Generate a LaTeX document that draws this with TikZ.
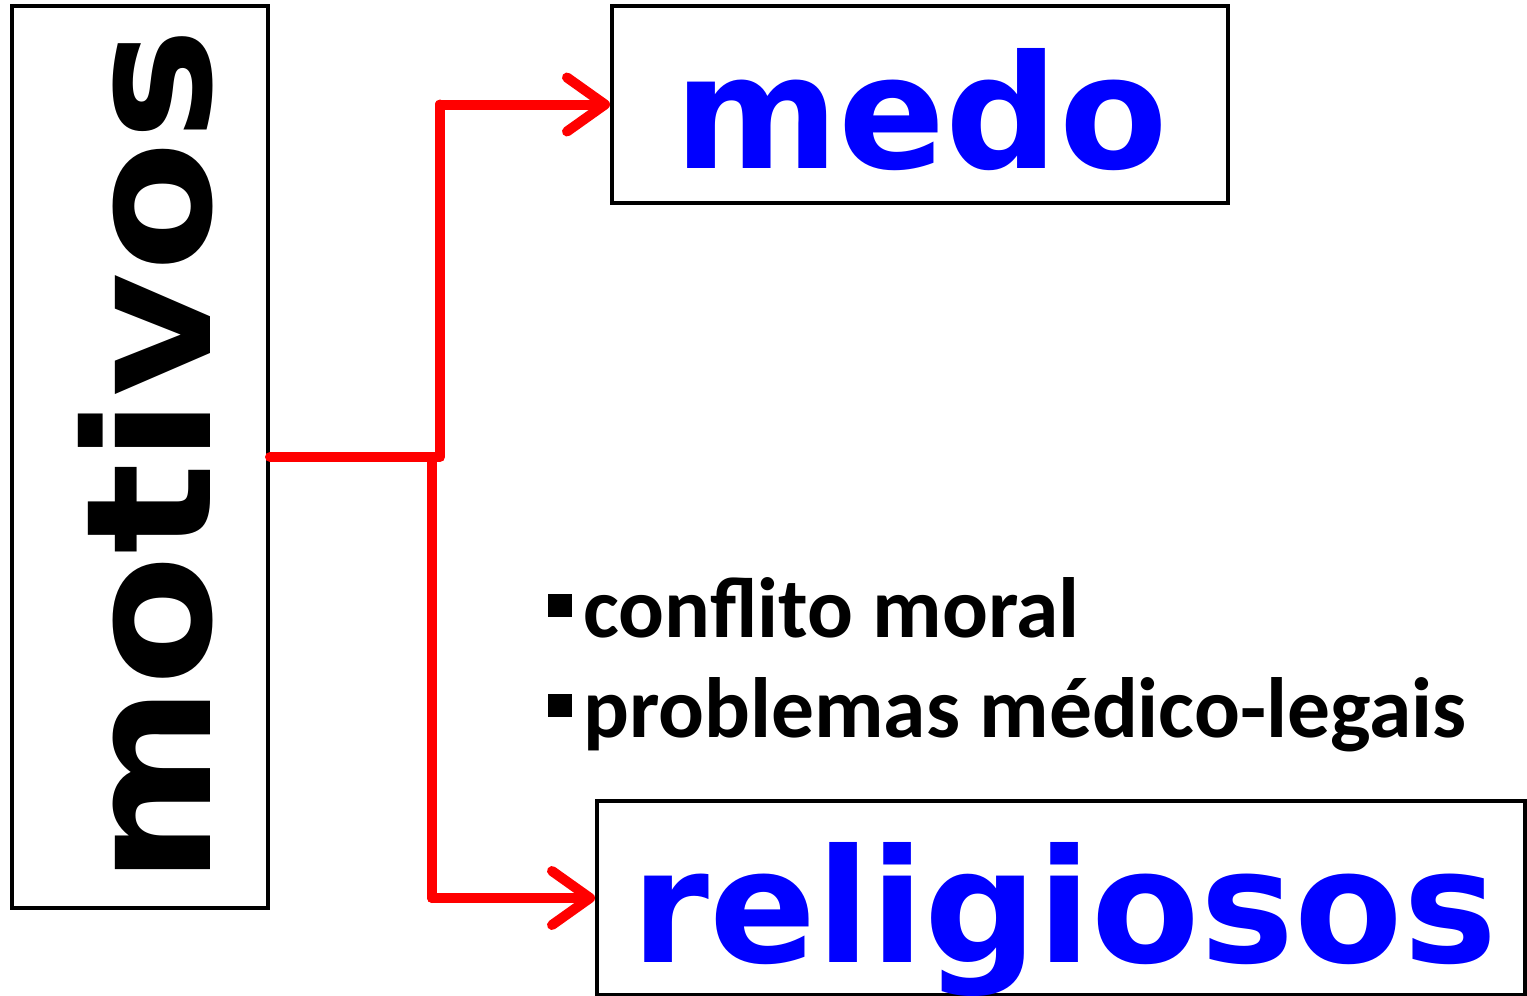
\documentclass[tikz,border=0pt]{standalone}
\usepackage{fontspec}
\setmainfont{DejaVu Sans}
\newfontfamily\calib{Carlito}
\usetikzlibrary{arrows.meta}
\definecolor{pblue}{RGB}{0,0,255}
\definecolor{pred}{RGB}{255,0,0}
\tikzset{
  box/.style={draw=black, line width=4pt, minimum width=#1, inner sep=0pt},
  link/.style={draw=pred, line width=10pt, line join=round, line cap=round},
  tip/.style={-{Straight Barb[length=38pt,width=54pt,line cap=round,line join=round]}},
  big/.style={font=\fontsize{158}{160}\selectfont\bfseries, text=pblue, inner sep=0pt},
  bul/.style={font=\calib\fontsize{85.5}{90}\selectfont\bfseries, inner sep=0pt, anchor=base west},
}
\newcommand{\sqb}{\raisebox{20pt}{\rule{24pt}{23pt}}\hspace{11pt}}
\begin{document}
\begin{tikzpicture}[x=1pt,y=-1pt]
\useasboundingbox (0,0) rectangle (1527,996);
\node[box=256pt, minimum height=902pt] (mot) at (140,457) {};
\node[box=616pt, minimum height=197pt] (medo) at (920,104.5) {};
\node[box=928pt, minimum height=194pt] (rel) at (1061,898) {};
\node[font=\fontsize{174}{180}\selectfont\bfseries, inner sep=0pt, rotate=90, anchor=base west] (motT) at (210,886) {\scalebox{1.1}[1]{motivos}};
\node[big, anchor=base west] (medoT) at (674,168) {medo};
\node[big, anchor=base west] (relT) at (631,962) {religiosos};
\node[bul] (b1) at (548,637) {\sqb conflito moral};
\node[bul] (b2) at (548,737) {\sqb problemas médico-legais};
\coordinate (j1) at (440,457);
\coordinate (j2) at (432,457);
\draw[link] (mot.east) -- (j1) -- (j1 |- medo.west) coordinate (c1);
\draw[link, tip] (c1) -- (medo.west);
\draw[link] (j2) -- (j2 |- rel.west) coordinate (c2);
\draw[link, tip] (c2) -- (rel.west);
\end{tikzpicture}
\end{document}
